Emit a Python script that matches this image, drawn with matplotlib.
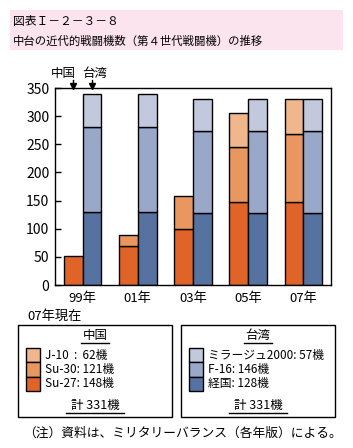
import matplotlib
matplotlib.use('Agg')
import matplotlib.pyplot as plt
from matplotlib.patches import Rectangle
from matplotlib.lines import Line2D
import numpy as np

plt.rcParams['font.family'] = ['Noto Sans CJK JP', 'DejaVu Sans']

years = ['99年', '01年', '03年', '05年', '07年']
# China (bottom to top)
china_su27 = [52, 70, 100, 148, 148]
china_su30 = [0, 19, 59, 98, 121]
china_j10 = [0, 0, 0, 60, 62]
# Taiwan (bottom to top)
taiwan_ckf = [130, 130, 128, 128, 128]
taiwan_f16 = [150, 150, 146, 146, 146]
taiwan_m2000 = [60, 60, 57, 57, 57]

china_labels = ['J-10  :  62機', 'Su-30: 121機', 'Su-27: 148機']
taiwan_labels = ['ミラージュ2000: 57機', 'F-16: 146機', '経国: 128機']

c_su27, c_su30, c_j10 = '#E06428', '#EA965F', '#F0B68C'
c_ckf, c_f16, c_m2000 = '#5672A0', '#99A8C8', '#C2C9DD'

W, H = 353, 448
fig = plt.figure(figsize=(W / 100, H / 100), dpi=100)


def fx(x):
    return x / W


def fy(y):
    return 1 - y / H


# title band
fig.patches.append(Rectangle((fx(10), fy(50)), fx(333), 40 / H, transform=fig.transFigure,
                             facecolor='#FCE4EE', edgecolor='none'))
fig.text(fx(13), fy(22), '図表Ｉ－２－３－８', fontsize=8.5, va='center', ha='left')
fig.text(fx(13), fy(41), '中台の近代的戦闘機数（第４世代戦闘機）の推移', fontsize=8.2, va='center', ha='left')

ax = fig.add_axes([fx(55), fy(285), fx(331 - 55), (285 - 88) / H])
x = np.arange(len(years))
w = 0.34
kw = dict(width=w, edgecolor='black', linewidth=1)

cb = np.array(china_su27)
ax.bar(x - w / 2, china_su27, color=c_su27, **kw)
s30 = np.array(china_su30)
ax.bar((x - w / 2)[s30 > 0], s30[s30 > 0], bottom=cb[s30 > 0], color=c_su30, **kw)
cb = cb + s30
j10 = np.array(china_j10)
ax.bar((x - w / 2)[j10 > 0], j10[j10 > 0], bottom=cb[j10 > 0], color=c_j10, **kw)

tb = np.array(taiwan_ckf)
ax.bar(x + w / 2, taiwan_ckf, color=c_ckf, **kw)
ax.bar(x + w / 2, taiwan_f16, bottom=tb, color=c_f16, **kw)
tb = tb + np.array(taiwan_f16)
ax.bar(x + w / 2, taiwan_m2000, bottom=tb, color=c_m2000, **kw)

ax.set_xlim(-0.5, len(years) - 0.5)
ax.set_ylim(0, 350)
ax.set_yticks(range(0, 351, 50))
ax.set_xticks(x)
ax.set_xticklabels(years)
ax.tick_params(axis='y', direction='in', length=4, width=1, labelsize=10, pad=4)
ax.tick_params(axis='x', length=0, labelsize=9.5, pad=5)
for s in ax.spines.values():
    s.set_linewidth(1)

# arrows pointing to the 99 bars
for xpos, lab, dx in [(-w / 2, '中国', -10), (w / 2, '台湾', 3)]:
    ax.add_line(Line2D([xpos, xpos], [350, 350 + 14], color='black', lw=1, clip_on=False))
    ax.plot([xpos], [353], marker='v', color='black', markersize=5, clip_on=False)
    ax.annotate(lab, xy=(xpos, 350), xytext=(dx, 15), textcoords='offset pixels',
                ha='center', va='center', fontsize=9, annotation_clip=False)

# legend boxes
fig.text(fx(27), fy(316), '07年現在', fontsize=9.5, va='center', ha='left')


def legend_box(x0, x1, title, colors, labels, total):
    fig.patches.append(Rectangle((fx(x0), fy(417)), fx(x1 - x0), (417 - 325) / H,
                                 transform=fig.transFigure, facecolor='none',
                                 edgecolor='black', linewidth=1))
    cx = (x0 + x1) / 2
    fig.text(fx(cx), fy(335), title, fontsize=9, ha='center', va='center')
    fig.add_artist(Line2D([fx(cx - 14), fx(cx + 14)], [fy(343), fy(343)], color='black', lw=1))
    for i, (c, lab) in enumerate(zip(colors, labels)):
        ytop = 348 + i * 14.3
        fig.patches.append(Rectangle((fx(x0 + 8), fy(ytop + 14.3)), fx(14), 14.3 / H,
                                     transform=fig.transFigure, facecolor=c,
                                     edgecolor='black', linewidth=1))
        fig.text(fx(x0 + 27), fy(ytop + 7.2), lab, fontsize=8.5, ha='left', va='center')
    fig.text(fx(cx), fy(405), total, fontsize=9, ha='center', va='center')
    fig.add_artist(Line2D([fx(cx - 29), fx(cx + 29)], [fy(413), fy(413)], color='black', lw=1))


legend_box(18, 172, '中国', [c_j10, c_su30, c_su27], china_labels, '計 331機')
legend_box(181, 335, '台湾', [c_m2000, c_f16, c_ckf], taiwan_labels, '計 331機')

fig.text(fx(23), fy(433), '（注）資料は、ミリタリーバランス（各年版）による。', fontsize=9.2,
         ha='left', va='center')

fig.savefig('out.png', dpi=100)
